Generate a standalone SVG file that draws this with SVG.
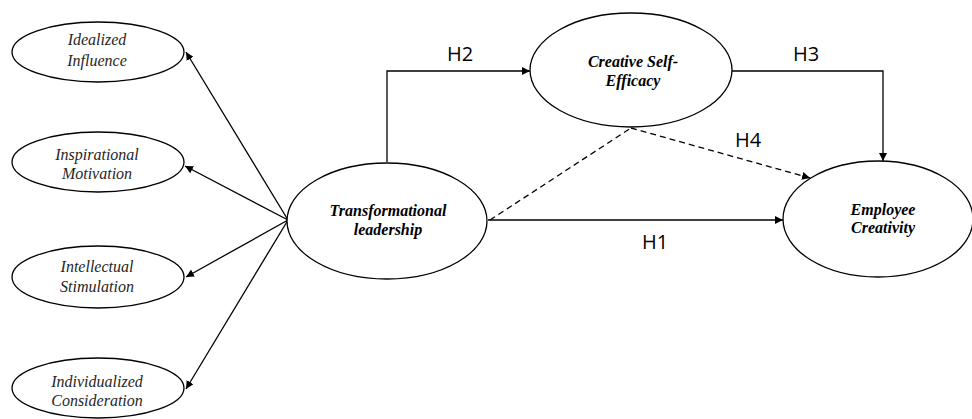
<svg xmlns="http://www.w3.org/2000/svg" width="972" height="419" viewBox="0 0 972 419">
<style>
.n{fill:#fff;stroke:#000;stroke-width:1.3}
.t{font-family:'Liberation Serif','Times New Roman','DejaVu Serif',serif;font-style:italic;font-size:16px;fill:#262626;text-anchor:middle}
.b{font-weight:bold;fill:#000}
.c{fill:none;stroke:#000;stroke-width:1.3}
.d{stroke-dasharray:6,4}
.h{font-family:'Open Sans','Liberation Sans',sans-serif;font-size:20px;fill:#000;text-anchor:middle}
</style>
<defs>
<marker id="a" viewBox="0 0 10 10" refX="10" refY="5" markerWidth="8" markerHeight="8" markerUnits="userSpaceOnUse" orient="auto"><path d="M0,0L10,5L0,10z" fill="#000"/></marker>
</defs>
<g id="connectors">
<line class="c" x1="288" y1="220" x2="186" y2="52" marker-end="url(#a)"/>
<line class="c" x1="288" y1="220" x2="185" y2="166" marker-end="url(#a)"/>
<line class="c" x1="288" y1="220" x2="186" y2="277" marker-end="url(#a)"/>
<line class="c" x1="288" y1="220" x2="186" y2="389" marker-end="url(#a)"/>
<polyline class="c" points="387,162 387,71 530,71" marker-end="url(#a)"/>
<polyline class="c" points="732,71 883,71 883,161" marker-end="url(#a)"/>
<line class="c" x1="488" y1="220" x2="783" y2="220" marker-end="url(#a)"/>
<line class="c d" x1="490" y1="220" x2="631" y2="128"/>
<line class="c d" x1="631" y1="128" x2="810" y2="178" marker-end="url(#a)"/>
<text class="h" x="460" y="61">H2</text>
<text class="h" x="806" y="61">H3</text>
<text class="h" x="748" y="147">H4</text>
<text class="h" x="655" y="249">H1</text>
</g>
<g id="idealized"><ellipse class="n" cx="98" cy="52" rx="86" ry="30"/><text class="t" x="97" y="45" font-family="Liberation Serif">Idealized</text><text class="t" x="97" y="66" font-family="Liberation Serif">Influence</text></g>
<g id="inspirational"><ellipse class="n" cx="98" cy="162" rx="86" ry="30"/><text class="t" x="97" y="160">Inspirational</text><text class="t" x="97" y="179">Motivation</text></g>
<g id="intellectual"><ellipse class="n" cx="98" cy="277" rx="86" ry="31"/><text class="t" x="97" y="272">Intellectual</text><text class="t" x="97" y="292">Stimulation</text></g>
<g id="individualized"><ellipse class="n" cx="98" cy="388" rx="86" ry="30"/><text class="t" x="97" y="387">Individualized</text><text class="t" x="97" y="406">Consideration</text></g>
<g id="transformational"><ellipse class="n" cx="387" cy="221" rx="100" ry="58"/><text class="t b" x="388" y="216">Transformational</text><text class="t b" x="388" y="235">leadership</text></g>
<g id="cse"><ellipse class="n" cx="631" cy="70" rx="101" ry="57"/><text class="t b" x="633" y="67">Creative Self-</text><text class="t b" x="633" y="86">Efficacy</text></g>
<g id="ec"><ellipse class="n" cx="878" cy="219" rx="95" ry="58"/><text class="t b" x="883" y="215">Employee</text><text class="t b" x="883" y="233">Creativity</text></g>
</svg>
